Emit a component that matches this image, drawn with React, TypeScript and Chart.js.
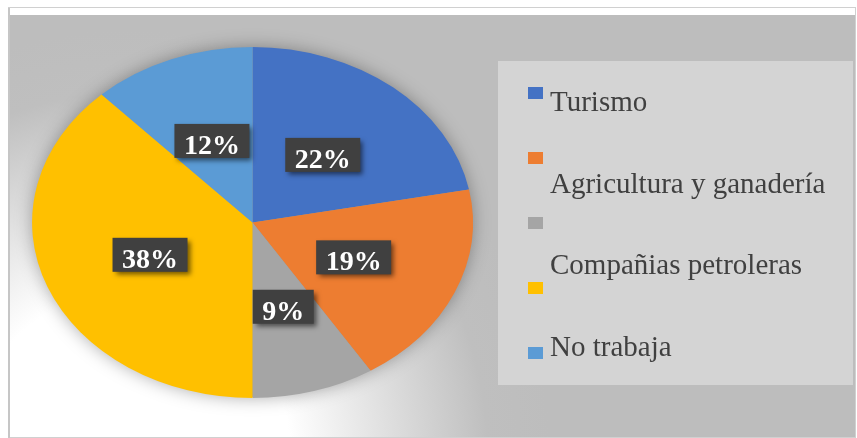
import React, { useEffect, useRef } from "react";
import { Chart, registerables } from "chart.js";

Chart.register(...registerables);

const labels = ["Turismo", "Agricultura y ganadería", "", "Compañias petroleras", "No trabaja"];
const values = [22, 19, 9, 38, 12];
const colors = ["#4472C4", "#ED7D31", "#A5A5A5", "#FFC000", "#5B9BD5"];

const W = 857;
const H = 438;
const STRETCH = 1.256;

const decorPlugin = {
  id: "decor",
  beforeDraw(chart: any) {
    const ctx = chart.ctx;
    ctx.save();
    ctx.fillStyle = "#ffffff";
    ctx.fillRect(0, 0, W, H);
    // background area
    const g = ctx.createRadialGradient(130, 450, 0, 130, 450, 420);
    g.addColorStop(0, "#ffffff");
    g.addColorStop(0.38, "#ffffff");
    g.addColorStop(0.85, "#bfbfbf");
    g.addColorStop(1, "#bdbdbd");
    ctx.fillStyle = g;
    ctx.fillRect(10, 15, 845, 422);
    // border
    ctx.strokeStyle = "#d0d0d0";
    ctx.lineWidth = 1;
    ctx.strokeRect(8.5, 7.5, 847, 430);
    ctx.fillStyle = "#c6c6c6";
    ctx.fillRect(8, 8, 2, 430);
    ctx.restore();
  },
  beforeDatasetsDraw(chart: any) {
    const ctx = chart.ctx;
    const arc = chart.getDatasetMeta(0).data[0];
    const cx = arc.x;
    const cy = arc.y;
    const r = arc.outerRadius;
    ctx.save();
    ctx.save();
    ctx.shadowColor = "rgba(0,0,0,0.35)";
    ctx.shadowBlur = 18;
    ctx.beginPath();
    ctx.ellipse(cx, cy, r * STRETCH - 1, r - 1, 0, 0, Math.PI * 2);
    ctx.fillStyle = "#9a9a9a";
    ctx.fill();
    ctx.restore();
    ctx.translate(cx, cy);
    ctx.scale(STRETCH, 1);
    ctx.translate(-cx, -cy);
  },
  afterDatasetsDraw(chart: any) {
    const ctx = chart.ctx;
    ctx.restore();
    const meta = chart.getDatasetMeta(0);
    const total = values.reduce((a, b) => a + b, 0);
    ctx.save();
    ctx.font = "bold 28px 'Liberation Serif', 'Times New Roman', serif";
    meta.data.forEach((arc: any, i: number) => {
      const mid = (arc.startAngle + arc.endAngle) / 2;
      const r = arc.outerRadius * 0.5;
      const x = arc.x + Math.cos(mid) * r * STRETCH;
      const y = arc.y + Math.sin(mid) * r;
      const txt = Math.round((values[i] / total) * 100) + "%";
      const tw = ctx.measureText(txt).width;
      const bw = tw + 19;
      const bh = 34;
      ctx.save();
      ctx.shadowColor = "rgba(0,0,0,0.55)";
      ctx.shadowBlur = 5;
      ctx.shadowOffsetX = 3;
      ctx.shadowOffsetY = 3;
      ctx.fillStyle = "#404040";
      ctx.fillRect(x - bw / 2, y - bh / 2, bw, bh);
      ctx.restore();
      ctx.fillStyle = "#ffffff";
      ctx.textAlign = "center";
      ctx.textBaseline = "alphabetic";
      ctx.fillText(txt, x, y + 13);
    });
    ctx.restore();

    // legend
    ctx.save();
    ctx.fillStyle = "#d4d4d4";
    ctx.fillRect(498, 61, 355, 324);
    colors.forEach((c, i) => {
      ctx.fillStyle = c;
      ctx.fillRect(528, 87 + 65 * i, 15, 12);
    });
    ctx.font = "29px 'Liberation Serif', 'Times New Roman', serif";
    ctx.fillStyle = "#404040";
    ctx.textAlign = "left";
    ctx.textBaseline = "alphabetic";
    const shown = labels.filter((l) => l.length > 0);
    shown.forEach((l, j) => {
      ctx.fillText(l, 550, 111 + 81.7 * j);
    });
    ctx.restore();
  },
};

export default function App() {
  const ref = useRef<HTMLCanvasElement>(null);
  useEffect(() => {
    if (!ref.current) return;
    const chart = new Chart(ref.current, {
      type: "pie",
      data: {
        labels,
        datasets: [
          {
            data: values,
            backgroundColor: colors,
            borderWidth: 0,
            clip: false,
          } as any,
        ],
      },
      options: {
        responsive: false,
        animation: false,
        layout: { padding: { left: 77, top: 47, right: 429, bottom: 40 } },
        plugins: {
          legend: { display: false },
          tooltip: { enabled: false },
        },
      },
      plugins: [decorPlugin],
    });
    return () => chart.destroy();
  }, []);
  return (
    <div style={{ position: "absolute", left: 0, top: 0, width: W, height: H }}>
      <canvas ref={ref} width={W} height={H} style={{ display: "block", width: W, height: H }} />
    </div>
  );
}
